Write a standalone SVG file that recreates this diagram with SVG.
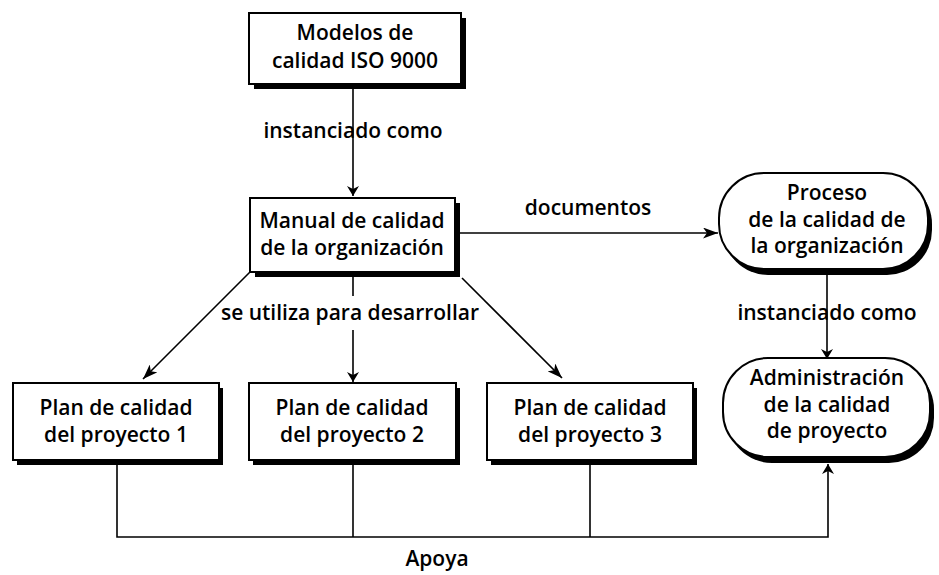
<svg xmlns="http://www.w3.org/2000/svg" width="939" height="575" viewBox="0 0 939 575">
<defs>
<marker id="ah" viewBox="0 0 10 12" refX="10" refY="6" markerWidth="10" markerHeight="12" markerUnits="userSpaceOnUse" orient="auto">
<path d="M0,0 L10,6 L0,12 L3,6 Z" fill="#000"/>
</marker>
<marker id="ahL" viewBox="0 0 15 11" refX="15" refY="5.5" markerWidth="15" markerHeight="11" markerUnits="userSpaceOnUse" orient="auto">
<path d="M0,0 L15,5.5 L0,11 L4,5.5 Z" fill="#000"/>
</marker>
</defs>
<style>
text{font-family:"Open Sans","DejaVu Sans",sans-serif;font-size:21px;font-weight:600;fill:#000;text-anchor:middle}
.box{fill:#fff;stroke:#000;stroke-width:2}
.sh{fill:#000}
.ln{fill:none;stroke:#000;stroke-width:1.6}
</style>
<rect width="939" height="575" fill="#fff"/>
<g id="connectors">
<line class="ln" x1="353" y1="88" x2="353" y2="196" marker-end="url(#ah)"/>
<line class="ln" x1="460" y1="233" x2="718" y2="233" marker-end="url(#ahL)"/>
<line class="ln" x1="251" y1="271" x2="143" y2="379" marker-end="url(#ahL)"/>
<line class="ln" x1="353" y1="277" x2="353" y2="296"/>
<line class="ln" x1="353" y1="330" x2="353" y2="382" marker-end="url(#ah)"/>
<line class="ln" x1="462" y1="278" x2="562" y2="378" marker-end="url(#ahL)"/>
<line class="ln" x1="827" y1="275" x2="827" y2="359" marker-end="url(#ah)"/>
<polyline class="ln" points="117,465 117,537 828,537 828,464" marker-end="url(#ah)"/>
<line class="ln" x1="353" y1="465" x2="353" y2="537"/>
<line class="ln" x1="590" y1="465" x2="590" y2="537"/>
<text x="353" y="138">instanciado como</text>
<text x="588" y="215">documentos</text>
<text x="350" y="320">se utiliza para desarrollar</text>
<text x="827" y="320">instanciado como</text>
<text x="437" y="566">Apoya</text>
</g>
<g id="n-modelos">
<rect class="sh" x="254" y="18" width="212" height="71"/>
<rect class="box" x="249" y="13" width="212" height="71"/>
<text x="355" y="40">Modelos de</text>
<text x="355" y="68">calidad ISO 9000</text>
</g>
<g id="n-manual">
<rect class="sh" x="255" y="203" width="205" height="74"/>
<rect class="box" x="250" y="198" width="205" height="74"/>
<text x="352" y="228">Manual de calidad</text>
<text x="352" y="255">de la organización</text>
</g>
<g id="n-proceso">
<rect class="sh" x="723" y="179" width="209" height="96" rx="45" ry="45"/>
<rect class="box" x="719" y="173" width="209" height="96" rx="45" ry="45"/>
<text x="827" y="200">Proceso</text>
<text x="827" y="227">de la calidad de</text>
<text x="827" y="253">la organización</text>
</g>
<g id="n-admin">
<rect class="sh" x="727" y="364" width="207" height="99" rx="45" ry="45"/>
<rect class="box" x="723" y="358" width="207" height="99" rx="45" ry="45"/>
<text x="827" y="385">Administración</text>
<text x="827" y="412">de la calidad</text>
<text x="827" y="438">de proyecto</text>
</g>
<g id="n-plan1">
<rect class="sh" x="17" y="388" width="206" height="77"/>
<rect class="box" x="13" y="383" width="206" height="77"/>
<text x="116" y="415">Plan de calidad</text>
<text x="116" y="442">del proyecto 1</text>
</g>
<g id="n-plan2">
<rect class="sh" x="253" y="388" width="207" height="77"/>
<rect class="box" x="249" y="383" width="207" height="77"/>
<text x="352" y="415">Plan de calidad</text>
<text x="352" y="442">del proyecto 2</text>
</g>
<g id="n-plan3">
<rect class="sh" x="491" y="388" width="206" height="77"/>
<rect class="box" x="487" y="383" width="206" height="77"/>
<text x="590" y="415">Plan de calidad</text>
<text x="590" y="442">del proyecto 3</text>
</g>
</svg>
